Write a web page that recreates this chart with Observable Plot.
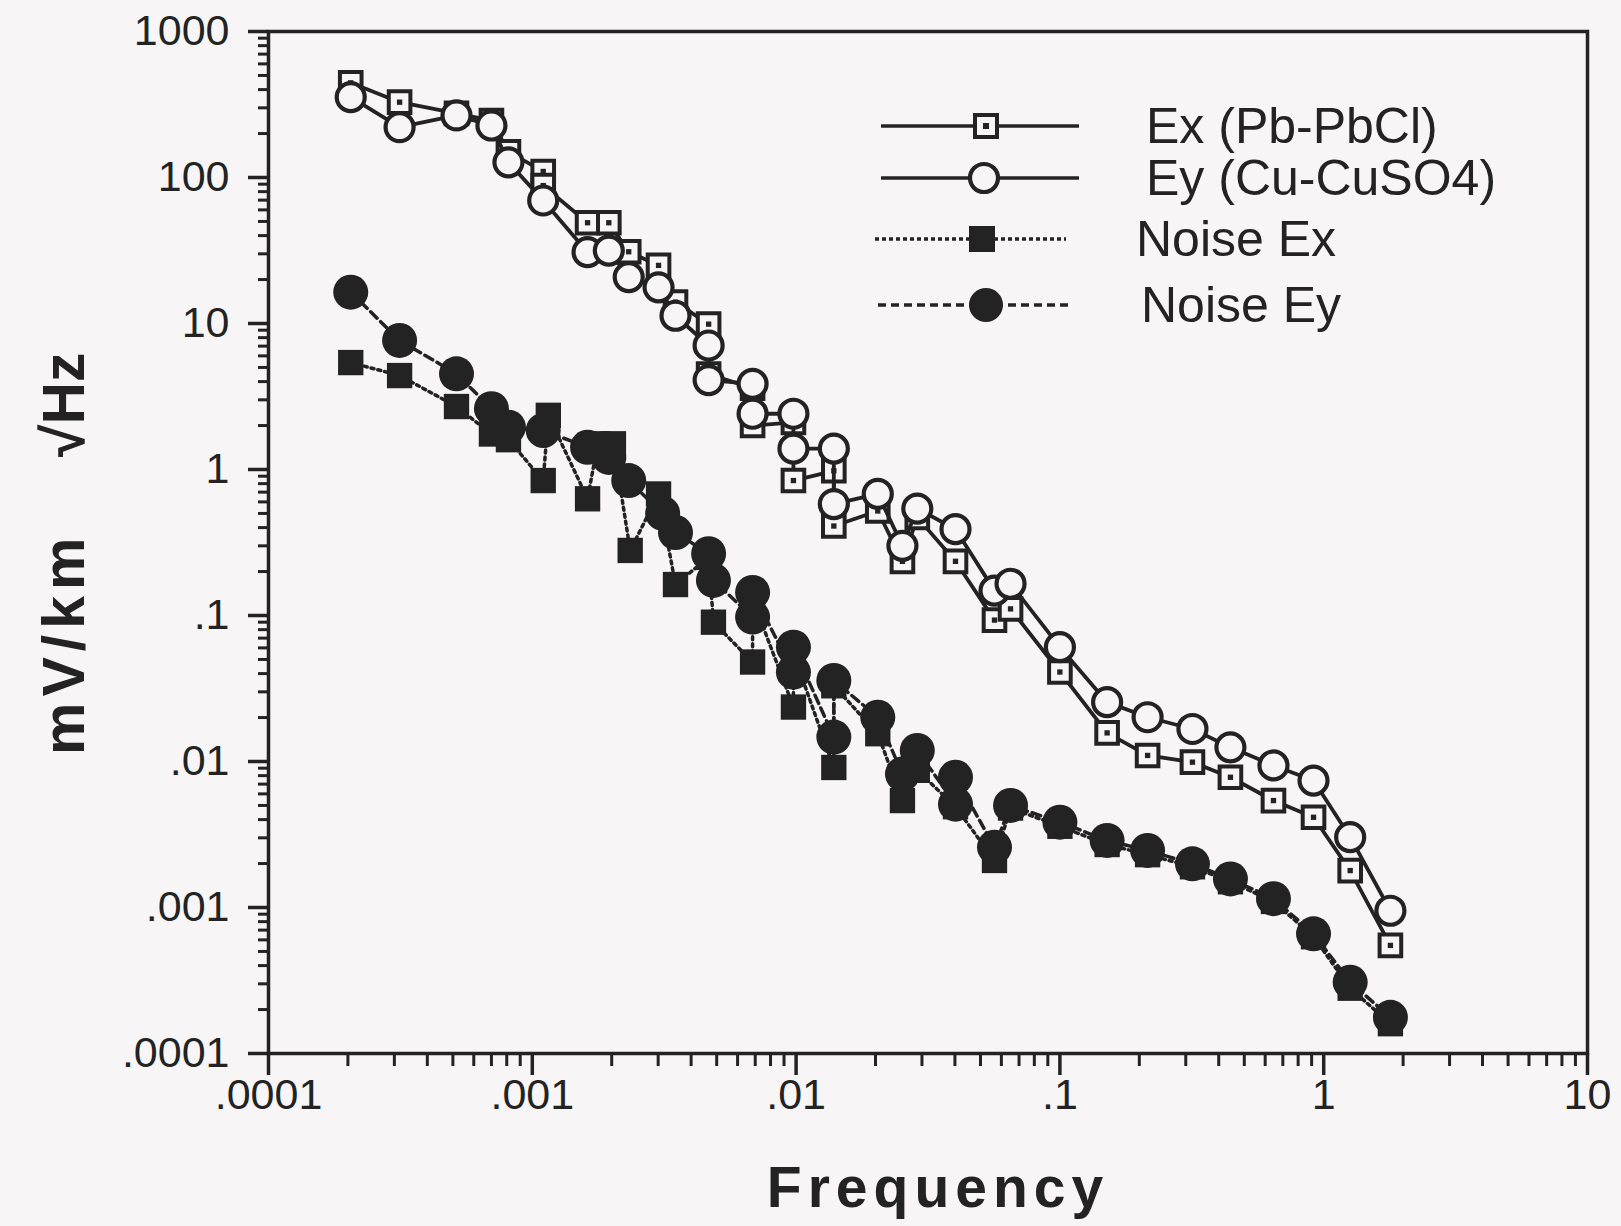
<!DOCTYPE html>
<html><head><meta charset="utf-8">
<script src="https://cdn.jsdelivr.net/npm/d3@7"></script>
<script src="https://cdn.jsdelivr.net/npm/@observablehq/plot@0.6"></script>
<style>
html,body{margin:0;padding:0;background:#f7f5f5;}
#wrap{position:relative;width:1621px;height:1226px;background:#f7f5f5;overflow:hidden;}
#wrap svg{position:absolute;left:0;top:0;}
</style></head><body><div id="wrap"></div>
<script>
// ---- data (frequency in Hz, amplitude in mV/km/sqrt(Hz)) ----
const exFreq = [2.05e-4,3.14e-4,5.16e-4,7.0e-4,8.12e-4,1.10e-3,1.10e-3,1.62e-3,1.95e-3,2.32e-3,3.01e-3,3.49e-3,4.66e-3,4.66e-3,6.84e-3,6.84e-3,9.77e-3,9.77e-3,1.39e-2,1.39e-2,2.04e-2,2.53e-2,2.88e-2,4.02e-2,5.65e-2,6.50e-2,0.1,0.151,0.215,0.318,0.443,0.645,0.915,1.26,1.79];
const exVal  = [445,328,275,245,150,110,88,49,49,31,25,14,9.9,4.5,3.6,2.0,2.1,0.84,0.98,0.41,0.52,0.235,0.47,0.235,0.093,0.111,0.041,0.0157,0.0110,0.0099,0.0078,0.0054,0.00415,0.00179,0.00055];

const eyFreq = [2.05e-4,3.14e-4,5.16e-4,7.0e-4,8.12e-4,1.10e-3,1.62e-3,1.95e-3,2.32e-3,3.01e-3,3.49e-3,4.66e-3,4.66e-3,6.84e-3,6.84e-3,9.77e-3,9.77e-3,1.39e-2,1.39e-2,2.04e-2,2.53e-2,2.88e-2,4.02e-2,5.65e-2,6.50e-2,0.1,0.151,0.215,0.318,0.443,0.645,0.915,1.26,1.79];
const eyVal  = [355,221,266,227,127,69.6,30.8,31.6,20.8,17.7,11.3,7.07,4.1,3.86,2.41,2.41,1.39,1.39,0.58,0.68,0.30,0.54,0.39,0.148,0.165,0.0607,0.0255,0.0201,0.0167,0.0125,0.0094,0.0074,0.00303,0.00095];

const nexFreq = [2.05e-4,3.14e-4,5.16e-4,7.0e-4,8.12e-4,1.10e-3,1.15e-3,1.62e-3,1.77e-3,2.03e-3,2.35e-3,3.01e-3,3.49e-3,4.66e-3,4.86e-3,6.84e-3,6.84e-3,9.77e-3,9.77e-3,1.39e-2,1.39e-2,2.04e-2,2.53e-2,2.88e-2,4.02e-2,5.65e-2,6.50e-2,0.1,0.151,0.215,0.318,0.443,0.645,0.915,1.26,1.79];
const nexVal  = [5.4,4.4,2.7,1.75,1.6,0.84,2.35,0.63,1.5,1.5,0.279,0.68,0.163,0.25,0.090,0.048,0.13,0.0236,0.055,0.0091,0.033,0.0155,0.0054,0.0087,0.0049,0.0021,0.0048,0.0036,0.0027,0.0023,0.0019,0.0015,0.0011,0.00063,0.00028,0.00016];

const neyFreq = [2.05e-4,3.14e-4,5.16e-4,7.0e-4,8.12e-4,1.10e-3,1.62e-3,1.95e-3,2.32e-3,3.12e-3,3.49e-3,4.66e-3,4.86e-3,6.84e-3,6.84e-3,9.77e-3,9.77e-3,1.39e-2,1.39e-2,2.04e-2,2.53e-2,2.88e-2,4.02e-2,4.02e-2,5.65e-2,6.50e-2,0.1,0.151,0.215,0.318,0.443,0.645,0.915,1.26,1.79];
const neyVal  = [16.4,7.66,4.52,2.61,1.95,1.85,1.42,1.21,0.84,0.50,0.37,0.265,0.174,0.0975,0.144,0.0409,0.0607,0.0147,0.0359,0.0201,0.0082,0.0119,0.0051,0.0078,0.00259,0.0050,0.00384,0.00288,0.00246,0.00199,0.00157,0.00115,0.00066,0.000308,0.000177];

// ---- axis ticks & labels ----
const xTickValues = [1e-4,1e-3,1e-2,1e-1,1,10];
const xTickLabels = [".0001",".001",".01",".1","1","10"];
const yTickValues = [1e-4,1e-3,1e-2,1e-1,1,10,100,1000];
const yTickLabels = [".0001",".001",".01",".1","1","10","100","1000"];
const seriesNames = ["Ex (Pb-PbCl)","Ey (Cu-CuSO4)","Noise Ex","Noise Ey"];
const xTitle = "Frequency";
const yTitleA = "mV/km";
const yTitleB = "\u221AHz";

const minorTicks = (lo, hi) => { const t=[]; for (let k=lo;k<hi;k++) for (let m=2;m<=9;m++) t.push(m*Math.pow(10,k)); return t; };
const xMinor = minorTicks(-4, 1);
const yMinor = minorTicks(-4, 3);

const ink = "#232323";
const bg = "#f7f5f5";
const rows = (f, v) => f.map((d, i) => ({f: d, v: v[i]}));
const ex = rows(exFreq, exVal), ey = rows(eyFreq, eyVal), nex = rows(nexFreq, nexVal), ney = rows(neyFreq, neyVal);
const labelOf = (vals, labs) => d => { const i = vals.findIndex(v => Math.abs(Math.log10(v) - Math.log10(d)) < 1e-6); return i >= 0 ? labs[i] : ""; };

const W = 1621, H = 1226;
const chart = Plot.plot({
  width: W, height: H,
  marginLeft: 268, marginRight: 34, marginTop: 31, marginBottom: 173,
  style: {background: "transparent", fontFamily: "'Liberation Sans', Arial, sans-serif", fontSize: "43px", color: ink},
  x: {type: "log", domain: [1e-4, 10]},
  y: {type: "log", domain: [1e-4, 1000]},
  marks: [
    Plot.axisX({ticks: xMinor, tickSize: 13, strokeWidth: 3, tickFormat: () => "", label: null, stroke: ink}),
    Plot.axisX({ticks: xTickValues, tickSize: 22, tickPadding: 3, strokeWidth: 3.5, tickFormat: labelOf(xTickValues, xTickLabels), label: null, fontSize: 43, stroke: ink, fill: ink}),
    Plot.axisY({ticks: yMinor, tickSize: 10, strokeWidth: 3, tickFormat: () => "", label: null, stroke: ink}),
    Plot.axisY({ticks: yTickValues, tickSize: 20, tickPadding: 19, strokeWidth: 3.5, tickFormat: labelOf(yTickValues, yTickLabels), label: null, fontSize: 43, stroke: ink, fill: ink}),
    Plot.frame({stroke: ink, strokeWidth: 3.5}),
    // Noise Ex
    Plot.line(nex, {x: "f", y: "v", stroke: ink, strokeWidth: 3.5, strokeDasharray: "3 4"}),
    Plot.dot(nex, {x: "f", y: "v", symbol: "square", r: 14.3, fill: ink, stroke: null}),
    // Noise Ey
    Plot.line(ney, {x: "f", y: "v", stroke: ink, strokeWidth: 3.5, strokeDasharray: "9 5"}),
    Plot.dot(ney, {x: "f", y: "v", symbol: "circle", r: 17.5, fill: ink, stroke: null}),
    // Ex
    Plot.line(ex, {x: "f", y: "v", stroke: ink, strokeWidth: 3.8}),
    Plot.dot(ex, {x: "f", y: "v", symbol: "square", r: 12.2, fill: bg, stroke: ink, strokeWidth: 4}),
    Plot.dot(ex, {x: "f", y: "v", symbol: "square", r: 3, fill: ink, stroke: null}),
    // Ey
    Plot.line(ey, {x: "f", y: "v", stroke: ink, strokeWidth: 3.8}),
    Plot.dot(ey, {x: "f", y: "v", symbol: "circle", r: 14, fill: bg, stroke: ink, strokeWidth: 4.2})
  ]
});
document.getElementById("wrap").appendChild(chart);

// ---- overlay: titles and legend ----
const ov = d3.select("#wrap").append("svg").attr("width", W).attr("height", H)
  .style("pointer-events", "none").style("font-family", "'Liberation Sans', Arial, sans-serif");

ov.append("text").attr("x", 938).attr("y", 1207).attr("text-anchor", "middle")
  .attr("font-size", 57).attr("font-weight", "bold").attr("letter-spacing", "6px").attr("fill", ink).text(xTitle);

ov.append("text").attr("transform", "translate(84,755) rotate(-90)").attr("text-anchor", "start")
  .attr("font-size", 59).attr("font-weight", "bold").attr("letter-spacing", "6px").attr("fill", ink).text(yTitleA);
ov.append("text").attr("transform", "translate(84,457) rotate(-90)").attr("text-anchor", "start")
  .attr("font-size", 59).attr("font-weight", "bold").attr("fill", ink).text(yTitleB);

const leg = [
  {y: 126, x1: 881, x2: 1079, mx: 986, tx: 1146, dash: null, kind: "sqOpen"},
  {y: 178, x1: 881, x2: 1079, mx: 984, tx: 1146, dash: null, kind: "ciOpen"},
  {y: 239, x1: 875, x2: 1066, mx: 982, tx: 1136, dash: "4 3", kind: "sqFill"},
  {y: 305, x1: 878, x2: 1070, mx: 986, tx: 1141, dash: "8 5", kind: "ciFill"}
];
leg.forEach((d, i) => {
  const g = ov.append("g");
  const ln = g.append("line").attr("x1", d.x1).attr("x2", d.x2).attr("y1", d.y).attr("y2", d.y)
    .attr("stroke", ink).attr("stroke-width", 3.5);
  if (d.dash) ln.attr("stroke-dasharray", d.dash);
  if (d.kind === "sqOpen") {
    g.append("rect").attr("x", d.mx - 11).attr("y", d.y - 11).attr("width", 22).attr("height", 22)
      .attr("fill", bg).attr("stroke", ink).attr("stroke-width", 4);
    g.append("rect").attr("x", d.mx - 3).attr("y", d.y - 3).attr("width", 6).attr("height", 6).attr("fill", ink);
  } else if (d.kind === "ciOpen") {
    g.append("circle").attr("cx", d.mx).attr("cy", d.y).attr("r", 14).attr("fill", bg).attr("stroke", ink).attr("stroke-width", 4.2);
  } else if (d.kind === "sqFill") {
    g.append("rect").attr("x", d.mx - 13).attr("y", d.y - 13).attr("width", 26).attr("height", 26).attr("fill", ink);
  } else {
    g.append("circle").attr("cx", d.mx).attr("cy", d.y).attr("r", 17).attr("fill", ink);
  }
  g.append("text").attr("x", d.tx).attr("y", d.y + 17).attr("font-size", 50).attr("fill", ink).text(seriesNames[i]);
});
</script>
</body></html>
